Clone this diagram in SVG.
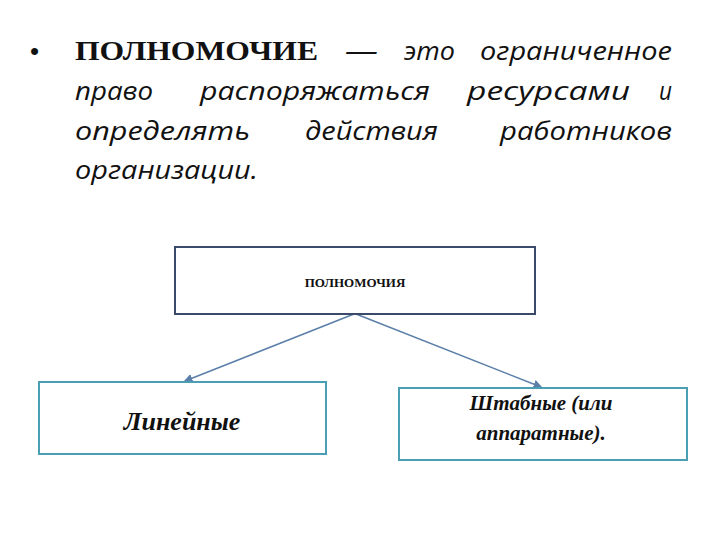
<svg xmlns="http://www.w3.org/2000/svg" width="720" height="540" viewBox="0 0 720 540">
<style>
.it{font-family:"Open Sans","Liberation Sans",sans-serif;font-style:italic;font-size:25px;fill:#111}
.bs{font-family:"Liberation Serif",serif;font-weight:bold;fill:#111}
.box{fill:#fff;stroke-width:2}
</style>
<defs><marker id="a" markerWidth="6" markerHeight="6" refX="5" refY="3" orient="auto"><path d="M0,0 L6,3 L0,6z" fill="#5b7fa8"/></marker></defs>
<rect width="720" height="540" fill="#fff"/>
<g id="heading">
<text x="30" y="60" class="bs" font-size="26">•</text>
<text x="75" y="60" class="bs" font-size="27" textLength="243" lengthAdjust="spacingAndGlyphs">ПОЛНОМОЧИЕ</text>
<text x="345" y="60" class="it" textLength="33" lengthAdjust="spacingAndGlyphs">—</text>
<text x="404" y="60" class="it" textLength="51" lengthAdjust="spacingAndGlyphs">это</text>
<text x="480" y="60" class="it" textLength="192" lengthAdjust="spacingAndGlyphs">ограниченное</text>
<text x="75" y="100" class="it" textLength="78" lengthAdjust="spacingAndGlyphs">право</text>
<text x="200" y="100" class="it" textLength="230" lengthAdjust="spacingAndGlyphs">распоряжаться</text>
<text x="467" y="100" class="it" textLength="163" lengthAdjust="spacingAndGlyphs">ресурсами</text>
<text x="659" y="100" class="it" textLength="13" lengthAdjust="spacingAndGlyphs">и</text>
<text x="75" y="140" class="it" textLength="175" lengthAdjust="spacingAndGlyphs">определять</text>
<text x="305" y="140" class="it" textLength="133" lengthAdjust="spacingAndGlyphs">действия</text>
<text x="500" y="140" class="it" textLength="172" lengthAdjust="spacingAndGlyphs">работников</text>
<text x="75" y="179" class="it" textLength="183" lengthAdjust="spacingAndGlyphs">организации.</text>
</g>
<g id="connectors" stroke="#5b7fa8" stroke-width="1.5" fill="none">
<line x1="354" y1="314" x2="185" y2="381" marker-end="url(#a)"/>
<line x1="356" y1="314" x2="541" y2="387" marker-end="url(#a)"/>
</g>
<g id="top">
<rect x="175" y="247" width="360" height="67" class="box" stroke="#3c4a6a"/>
<text x="355" y="287" class="bs" font-size="13" text-anchor="middle">ПОЛНОМОЧИЯ</text>
</g>
<g id="linear">
<rect x="39" y="382" width="287" height="72" class="box" stroke="#4a9fb5"/>
<text x="182" y="430" class="bs" font-size="26" font-style="italic" text-anchor="middle">Линейные</text>
</g>
<g id="staff">
<rect x="399" y="388" width="288" height="72" class="box" stroke="#4a9fb5"/>
<text x="541" y="410" class="bs" font-size="21" font-style="italic" text-anchor="middle">Штабные (или</text>
<text x="541" y="440" class="bs" font-size="21" font-style="italic" text-anchor="middle">аппаратные).</text>
</g>
</svg>
